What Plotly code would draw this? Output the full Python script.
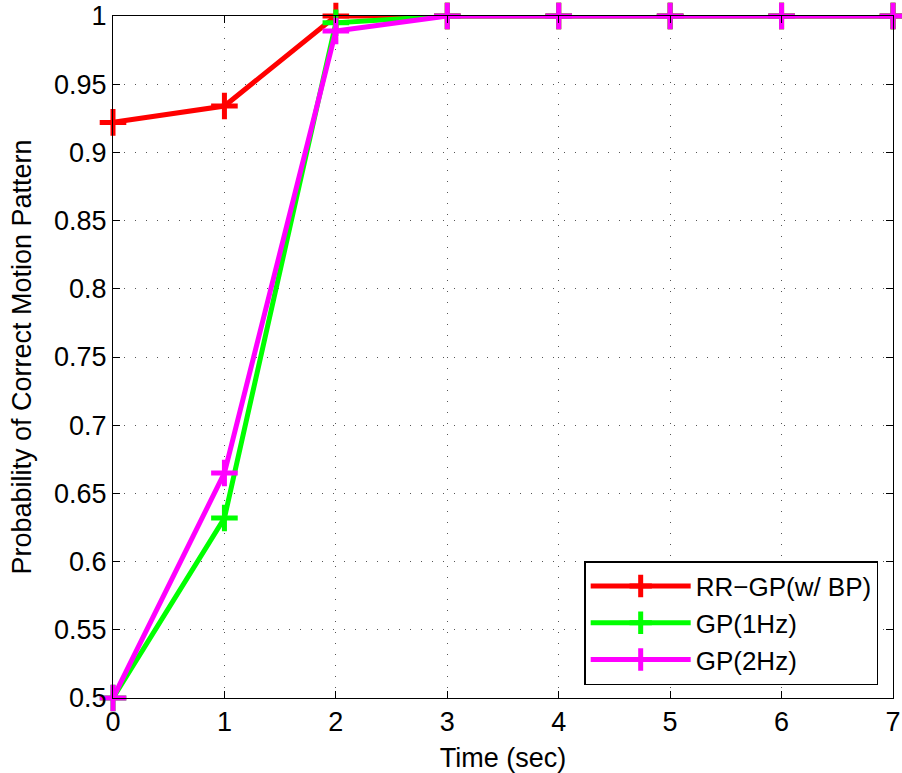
import plotly.graph_objects as go

time_sec = [0, 1, 2, 3, 4, 5, 6, 7]
rr_gp_bp = [0.922, 0.934, 1.0, 1.0, 1.0, 1.0, 1.0, 1.0]
gp_1hz = [0.5, 0.632, 0.995, 1.0, 1.0, 1.0, 1.0, 1.0]
gp_2hz = [0.5, 0.665, 0.989, 1.0, 1.0, 1.0, 1.0, 1.0]

series = [
    ("RR\u2212GP(w/ BP)", rr_gp_bp, "#ff0000"),
    ("GP(1Hz)", gp_1hz, "#00ff00"),
    ("GP(2Hz)", gp_2hz, "#ff00ff"),
]

y_ticks = [0.5, 0.55, 0.6, 0.65, 0.7, 0.75, 0.8, 0.85, 0.9, 0.95, 1.0]
y_tick_labels = ["0.5", "0.55", "0.6", "0.65", "0.7", "0.75", "0.8", "0.85", "0.9", "0.95", "1"]

fig = go.Figure()
for name, vals, color in series:
    fig.add_trace(go.Scatter(
        x=time_sec, y=vals, name=name, mode="lines+markers",
        line=dict(color=color, width=5),
        marker=dict(symbol="cross-thin-open", size=19, color=color,
                    line=dict(color=color, width=5)),
        cliponaxis=False,
    ))

font = "Liberation Sans, Arial, Helvetica, sans-serif"
fs = 27
fig.update_layout(
    width=902, height=773,
    margin=dict(l=113, r=9, t=16, b=75, autoexpand=False),
    paper_bgcolor="white", plot_bgcolor="white",
    font=dict(family=font, size=fs, color="black"),
    showlegend=True,
    legend=dict(
        x=0.981, y=0.019, xanchor="right", yanchor="bottom",
        bordercolor="black", borderwidth=1.5, bgcolor="white",
        font=dict(size=26, family=font), itemwidth=100,
        tracegroupgap=0,
    ),
    xaxis=dict(
        range=[0, 7], tickvals=time_sec, ticktext=[str(t) for t in time_sec],
        showline=True, linecolor="black", linewidth=1, mirror="ticks",
        ticks="inside", ticklen=7, tickcolor="black",
        showgrid=True, gridcolor="#555555", griddash="1px,10px", gridwidth=1,
        zeroline=False, automargin=False,
        title=dict(text="Time (sec)", font=dict(size=fs), standoff=11),
        tickfont=dict(size=fs),
    ),
    yaxis=dict(
        range=[0.5, 1.0], tickvals=y_ticks, ticktext=y_tick_labels,
        showline=True, linecolor="black", linewidth=1, mirror="ticks",
        ticks="inside", ticklen=7, tickcolor="black",
        showgrid=True, gridcolor="#555555", griddash="1px,10px", gridwidth=1,
        zeroline=False, automargin=False,
        title=dict(text="Probability of Correct Motion Pattern", font=dict(size=fs), standoff=14),
        tickfont=dict(size=fs),
    ),
)

fig.write_html("out.html")
